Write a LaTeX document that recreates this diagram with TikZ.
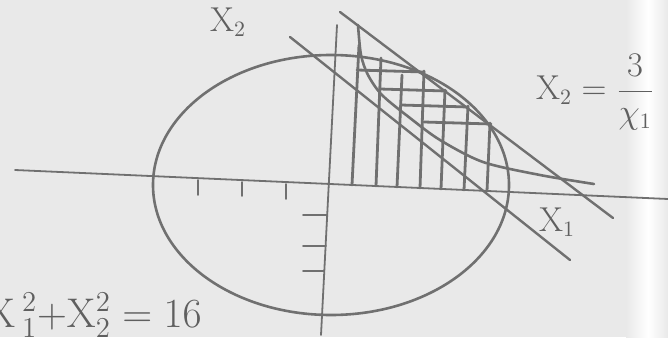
\documentclass[tikz,border=0pt]{standalone}
\usepackage{tikz}

\definecolor{ink}{RGB}{112,112,112}
\definecolor{paper}{RGB}{233,233,233}

\begin{document}
\begin{tikzpicture}[x=0.5pt, y=-0.5pt, ink, line width=1.2pt, line cap=round,
        lab/.style = {text=ink!85!black, inner sep=0pt, font=\fontsize{16}{18}\selectfont},
        axis/.style = {line width=0.9pt},
        hatch/.style = {line width=1.4pt}]
        \fill[paper] (0,0) rectangle (668,337);
        \useasboundingbox (0,0) rectangle (668,337);
        \shade[left color=paper, right color=white] (626,0) rectangle (648,337);
        \shade[left color=white, right color=paper] (648,0) rectangle (668,337);

        \draw[axis] (15,170) -- (668,199);
        \draw[axis] (337,25) -- (321,335);
        \draw[axis] (198,180) -- (198,195);
        \draw[axis] (242,182) -- (242,196);
        \draw[axis] (286,184) -- (286,199);
        \draw[axis] (303,215) -- (327,215);
        \draw[axis] (303,246) -- (326,246);
        \draw[axis] (303,271) -- (324,271);

        \draw[line width=1.3pt] (331,185) ellipse [x radius=178, y radius=130];

        \draw (340,12) -- (613,218);
        \draw (290,37) -- (570,260);
        \draw[line width=1.3pt] plot[smooth] coordinates {(358,25) (361,55) (368,75) (382,95)
                (410,118) (440,140) (483,162) (540,175) (594,184)};

        \draw[hatch] (359,45) -- (352,185);
        \draw[hatch] (381,58) -- (376,186);
        \draw[hatch] (402,75) -- (397,187);
        \draw[hatch] (424,71) -- (420,188);
        \draw[hatch] (445,90) -- (441,189);
        \draw[hatch] (468,106) -- (464,190);
        \draw[hatch] (490,123) -- (487,191);
        \draw[hatch] (357,70) -- (424,72);
        \draw[hatch] (380,89) -- (446,91);
        \draw[hatch] (401,105) -- (468,107);
        \draw[hatch] (424,122) -- (491,124);

        \node[lab] (x2) at (228,22) {$\mathrm{X}_2$};
        \node[lab, anchor=west] (h) at (535,92) {$\mathrm{X}_2=\displaystyle\frac{3}{\chi_1}$};
        \node[lab] (x1) at (557,222) {$\mathrm{X}_1$};
        \node[lab, font=\fontsize{20}{22}\selectfont, anchor=base east] (c) at (203,327)
                {$\mathrm{X}\,{}^2_1{+}\mathrm{X}^2_2=16$};
\end{tikzpicture}
\end{document}
